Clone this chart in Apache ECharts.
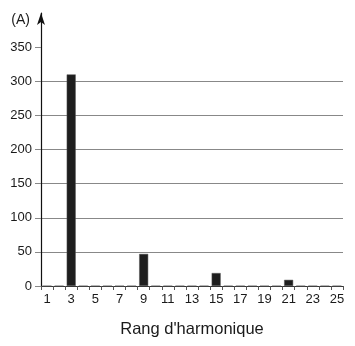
<!DOCTYPE html>
<html>
<head>
<meta charset="utf-8">
<script src="https://cdn.jsdelivr.net/npm/echarts@6/dist/echarts.min.js"></script>
<style>
html,body{margin:0;padding:0;background:#fff;}
#chart{width:355px;height:346px;}
</style>
</head>
<body>
<div id="chart"></div>
<script>
var harmonicRanks = ['1','2','3','4','5','6','7','8','9','10','11','12','13','14','15','16','17','18','19','20','21','22','23','24','25'];
var currentValues = [0,0,310,0,0,0,0,0,47,0,0,0,0,0,19,0,0,0,0,0,9,0,0,0,0];
var yTickValues = [0,50,100,150,200,250,300,350];
var xAxisTitle = "Rang d'harmonique";
var yAxisTitle = '(A)';

var chart = echarts.init(document.getElementById('chart'));
chart.setOption({
  animation: false,
  grid: {left: 41, right: 12, top: 13, bottom: 60, containLabel: false},
  textStyle: {fontFamily: 'Liberation Sans, Arial, sans-serif'},
  xAxis: {
    type: 'category',
    data: harmonicRanks,
    name: xAxisTitle,
    nameLocation: 'middle',
    nameGap: 35,
    nameTextStyle: {fontSize: 16.5, color: '#1a1a1a', fontFamily: 'Liberation Sans, Arial, sans-serif'},
    axisLine: {lineStyle: {color: '#333', width: 1.2}},
    axisTick: {show: true, interval: 0, alignWithLabel: false, length: 4, lineStyle: {color: '#555'}},
    axisLabel: {interval: 1, fontSize: 13, color: '#1a1a1a', margin: 7},
    splitLine: {show: false}
  },
  yAxis: {
    type: 'value',
    min: 0,
    max: 400,
    interval: 50,
    name: yAxisTitle,
    nameLocation: 'end',
    nameGap: 0,
    nameTextStyle: {fontSize: 14, color: '#1a1a1a', align: 'right', verticalAlign: 'top', padding: [0, 11, 0, 0]},
    axisLine: {show: true, symbol: ['none', 'arrow'], symbolSize: [6, 12], symbolOffset: [0, 0], lineStyle: {color: '#111', width: 1.2}},
    axisTick: {show: true, length: 6, customValues: yTickValues, lineStyle: {color: '#888'}},
    axisLabel: {fontSize: 13, color: '#1a1a1a', margin: 9, customValues: yTickValues},
    splitLine: {show: true, showMinLine: false, showMaxLine: false, lineStyle: {color: '#888', width: 1}}
  },
  series: [{
    type: 'bar',
    data: currentValues,
    barWidth: 9,
    itemStyle: {color: '#1e1e1e', borderColor: '#555', borderWidth: 0.5}
  }]
});
</script>
</body>
</html>
